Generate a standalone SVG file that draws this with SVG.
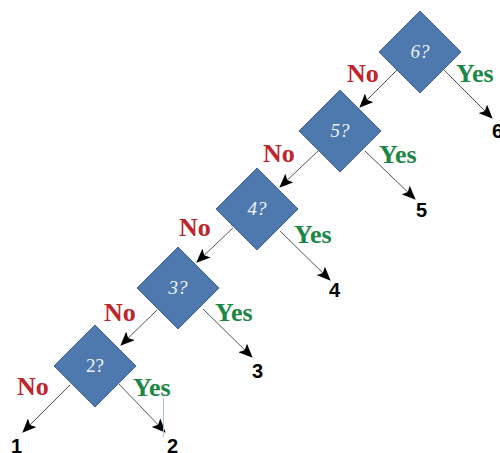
<svg xmlns="http://www.w3.org/2000/svg" width="500" height="453" viewBox="0 0 500 453">
<defs>
<marker id="ah" markerUnits="userSpaceOnUse" markerWidth="14" markerHeight="12" refX="13" refY="6" orient="auto">
<path d="M0,0 L14,6 L0,12 L3,6 Z" fill="#000"/>
</marker>
<style>
.d{fill:#4E79AF;stroke:#3F6390;stroke-width:1}
.q{font-family:"Liberation Serif",serif;font-style:italic;font-size:19px;fill:#EEF2F8;text-anchor:middle}
.no{font-family:"Liberation Serif",serif;font-weight:bold;font-size:26px;fill:#C0242C}
.yes{font-family:"Liberation Serif",serif;font-weight:bold;font-size:26px;fill:#1B8744}
.n{font-family:"Liberation Sans",Arial,sans-serif;font-weight:bold;font-size:20px;fill:#000}
.c{stroke:#555;stroke-width:1;fill:none;marker-end:url(#ah)}
</style>
</defs>
<rect width="500" height="453" fill="#fff"/>
<g id="connectors">
<line class="c" x1="397" y1="70" x2="360" y2="107"/>
<line class="c" x1="443" y1="69" x2="492" y2="118"/>
<line class="c" x1="318" y1="151" x2="280" y2="187"/>
<line class="c" x1="365" y1="151" x2="415" y2="199"/>
<line class="c" x1="233" y1="228" x2="197" y2="262"/>
<line class="c" x1="280" y1="231" x2="330" y2="280"/>
<line class="c" x1="157" y1="310" x2="121" y2="345"/>
<line class="c" x1="203" y1="309" x2="252" y2="357"/>
<line class="c" x1="70" y1="385" x2="23" y2="432"/>
<line class="c" x1="118" y1="383" x2="165" y2="432"/>
</g>
<line x1="163.5" y1="398" x2="163.5" y2="437" stroke="#A9BFD8" stroke-width="1"/>
<g id="n6">
<polygon class="d" points="420,11 461,52 420,93 379,52"/>
<text class="q" x="420" y="58">6?</text>
</g>
<g id="n5">
<polygon class="d" points="340,90 381,131 340,172 299,131"/>
<text class="q" x="340" y="137">5?</text>
</g>
<g id="n4">
<polygon class="d" points="257,168 298,209 257,250 216,209"/>
<text class="q" x="257" y="215">4?</text>
</g>
<g id="n3">
<polygon class="d" points="178,247 219,288 178,329 137,288"/>
<text class="q" x="178" y="294">3?</text>
</g>
<g id="n2">
<polygon class="d" points="95,325 136,366 95,407 54,366"/>
<text class="q" x="95" y="372" style="font-style:normal">2?</text>
</g>
<g id="labels">
<text class="no" x="347" y="82">No</text>
<text class="yes" x="456" y="82">Yes</text>
<text class="no" x="263" y="162">No</text>
<text class="yes" x="379" y="163">Yes</text>
<text class="no" x="179" y="236">No</text>
<text class="yes" x="294" y="243">Yes</text>
<text class="no" x="104" y="321">No</text>
<text class="yes" x="215" y="321">Yes</text>
<text class="no" x="17" y="395">No</text>
<text class="yes" x="133" y="396">Yes</text>
</g>
<g id="leaves">
<text class="n" x="492" y="138">6</text>
<text class="n" x="416" y="217">5</text>
<text class="n" x="329" y="297">4</text>
<text class="n" x="252" y="378">3</text>
<text class="n" x="167" y="453">2</text>
<text class="n" x="11" y="453">1</text>
</g>
</svg>
